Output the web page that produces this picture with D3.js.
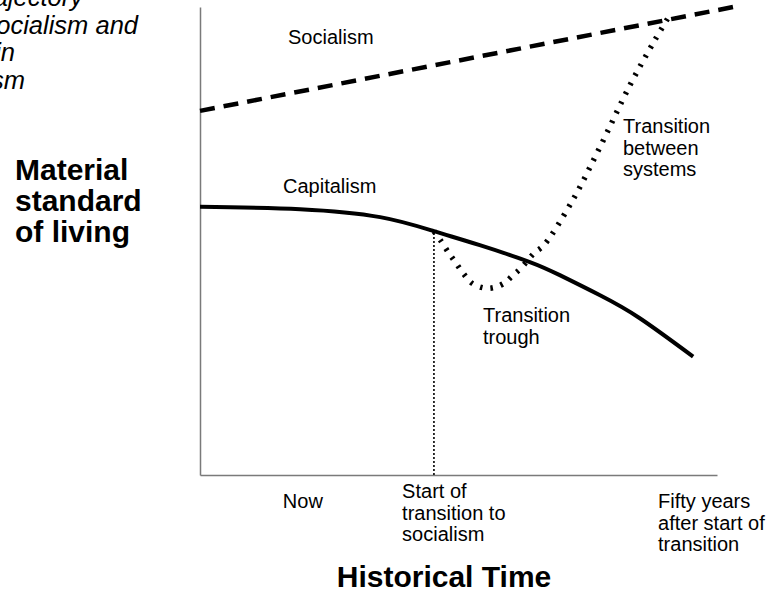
<!DOCTYPE html>
<html>
<head>
<meta charset="utf-8">
<script src="https://cdn.jsdelivr.net/npm/d3@7"></script>
<style>
  html, body { margin: 0; padding: 0; background: #fff; }
  svg { display: block; }
  text { font-family: "Liberation Sans", Arial, sans-serif; fill: #000; }
</style>
</head>
<body>
<svg id="chart" width="769" height="596"></svg>
<script>
// ---- data (years relative to start of transition, level = material standard of living) ----
const socialismYears = [-50, 64];
const socialismLevel = [77.8, 100];

const capitalismYears = [-50, -28.6, -11.5, 0, 9.8, 20.5, 26.9, 35.5, 44.0, 55.4];
const capitalismLevel = [57.3, 56.8, 55.1, 52.1, 49.1, 45.5, 42.7, 38.4, 33.5, 25.3];

const transitionYears = [0, 1.5, 3.2, 4.7, 6.4, 8.1, 10.5, 12.6, 15.0, 16.9, 18.6, 21.4, 23.5, 29.7, 35.5, 41.9, 47.2, 50.0];
const transitionLevel = [52.1, 50.0, 47.4, 45.3, 42.9, 41.0, 40.0, 40.0, 41.0, 42.7, 44.2, 47.4, 49.1, 58.8, 70.1, 83.3, 92.9, 97.6];

const transitionStartYear = 0;

const xTickYears = [-32.3, -6.8, 47.9];
const xTickLabels = [["Now"], ["Start of", "transition to", "socialism"], ["Fifty years", "after start of", "transition"]];

const titleLines = ["Hypothetical trajectory", "of socialism and", "living standards in", "capitalism"];
const yTitleLines = ["Material", "standard", "of living"];
const xTitle = "Historical Time";

// ---- scales ----
const svg = d3.select("#chart");
const x = d3.scaleLinear().domain([-50, 60.5]).range([200, 717]);
const y = d3.scaleLinear().domain([0, 100]).range([475, 7]);

// axes (plain lines, no ticks)
const xAxis = d3.axisBottom(x).tickValues([]).tickSizeOuter(0);
const yAxis = d3.axisLeft(y).tickValues([]).tickSizeOuter(0);
svg.append("g").attr("transform", `translate(0,${y(0)})`).call(xAxis)
  .select(".domain").attr("stroke", "#7a7a7a").attr("stroke-width", 1.5);
svg.append("g").attr("transform", `translate(${x(-50)},0)`).call(yAxis)
  .select(".domain").attr("stroke", "#7a7a7a").attr("stroke-width", 1.5);

const line = d3.line().x(d => x(d[0])).y(d => y(d[1]));

// socialism dashed line
svg.append("path")
  .datum(d3.zip(socialismYears, socialismLevel))
  .attr("d", line)
  .attr("fill", "none").attr("stroke", "#000")
  .attr("stroke-width", 4.5).attr("stroke-dasharray", "15,9");

// vertical dotted line at start of transition
const startIdx = capitalismYears.indexOf(transitionStartYear);
svg.append("path")
  .datum([[transitionStartYear, 0], [transitionStartYear, capitalismLevel[startIdx]]])
  .attr("d", line)
  .attr("fill", "none").attr("stroke", "#000")
  .attr("stroke-width", 1.6).attr("stroke-dasharray", "2,2");

// capitalism solid curve
svg.append("path")
  .datum(d3.zip(capitalismYears, capitalismLevel))
  .attr("d", d3.line().x(d => x(d[0])).y(d => y(d[1])).curve(d3.curveNatural))
  .attr("fill", "none").attr("stroke", "#000")
  .attr("stroke-width", 4);

// transition dotted path
svg.append("path")
  .datum(d3.zip(transitionYears, transitionLevel))
  .attr("d", d3.line().x(d => x(d[0])).y(d => y(d[1])).curve(d3.curveCatmullRom))
  .attr("fill", "none").attr("stroke", "#000")
  .attr("stroke-width", 5.5).attr("stroke-dasharray", "2.5,8");

// ---- text ----
function multiline(g, lines, xPos, yPos, dy, opts) {
  const t = g.append("text")
    .attr("x", xPos).attr("y", yPos)
    .attr("font-size", opts.size)
    .attr("font-weight", opts.weight || "normal")
    .attr("font-style", opts.style || "normal")
    .attr("text-anchor", opts.anchor || "start");
  lines.forEach((l, i) => t.append("tspan").attr("x", xPos).attr("y", yPos + i * dy).text(l));
  return t;
}

// clipped title at the upper left (only the right-hand ends are visible)
const titleEnds = [83, 138, 15, 25];
titleLines.forEach((l, i) => {
  svg.append("text").attr("x", titleEnds[i]).attr("y", 6 + i * 27.5)
    .attr("text-anchor", "end").attr("font-size", 25.5).attr("font-style", "italic").text(l);
});

multiline(svg, yTitleLines, 15, 180, 31, { size: 30, weight: "bold" });

svg.append("text").attr("x", 288).attr("y", 44).attr("font-size", 20).text("Socialism");
svg.append("text").attr("x", 283).attr("y", 193).attr("font-size", 20).text("Capitalism");
multiline(svg, ["Transition", "between", "systems"], 623, 133, 21.5, { size: 20 });
multiline(svg, ["Transition", "trough"], 483, 322, 21.5, { size: 20 });

xTickYears.forEach((yr, i) => {
  const lines = xTickLabels[i];
  const top = i === 1 ? 498 : 508;
  multiline(svg, lines, x(yr), top, 21.5, { size: 20 });
});

svg.append("text").attr("x", 444).attr("y", 587).attr("text-anchor", "middle")
  .attr("font-size", 30).attr("font-weight", "bold").text(xTitle);
</script>
</body>
</html>
